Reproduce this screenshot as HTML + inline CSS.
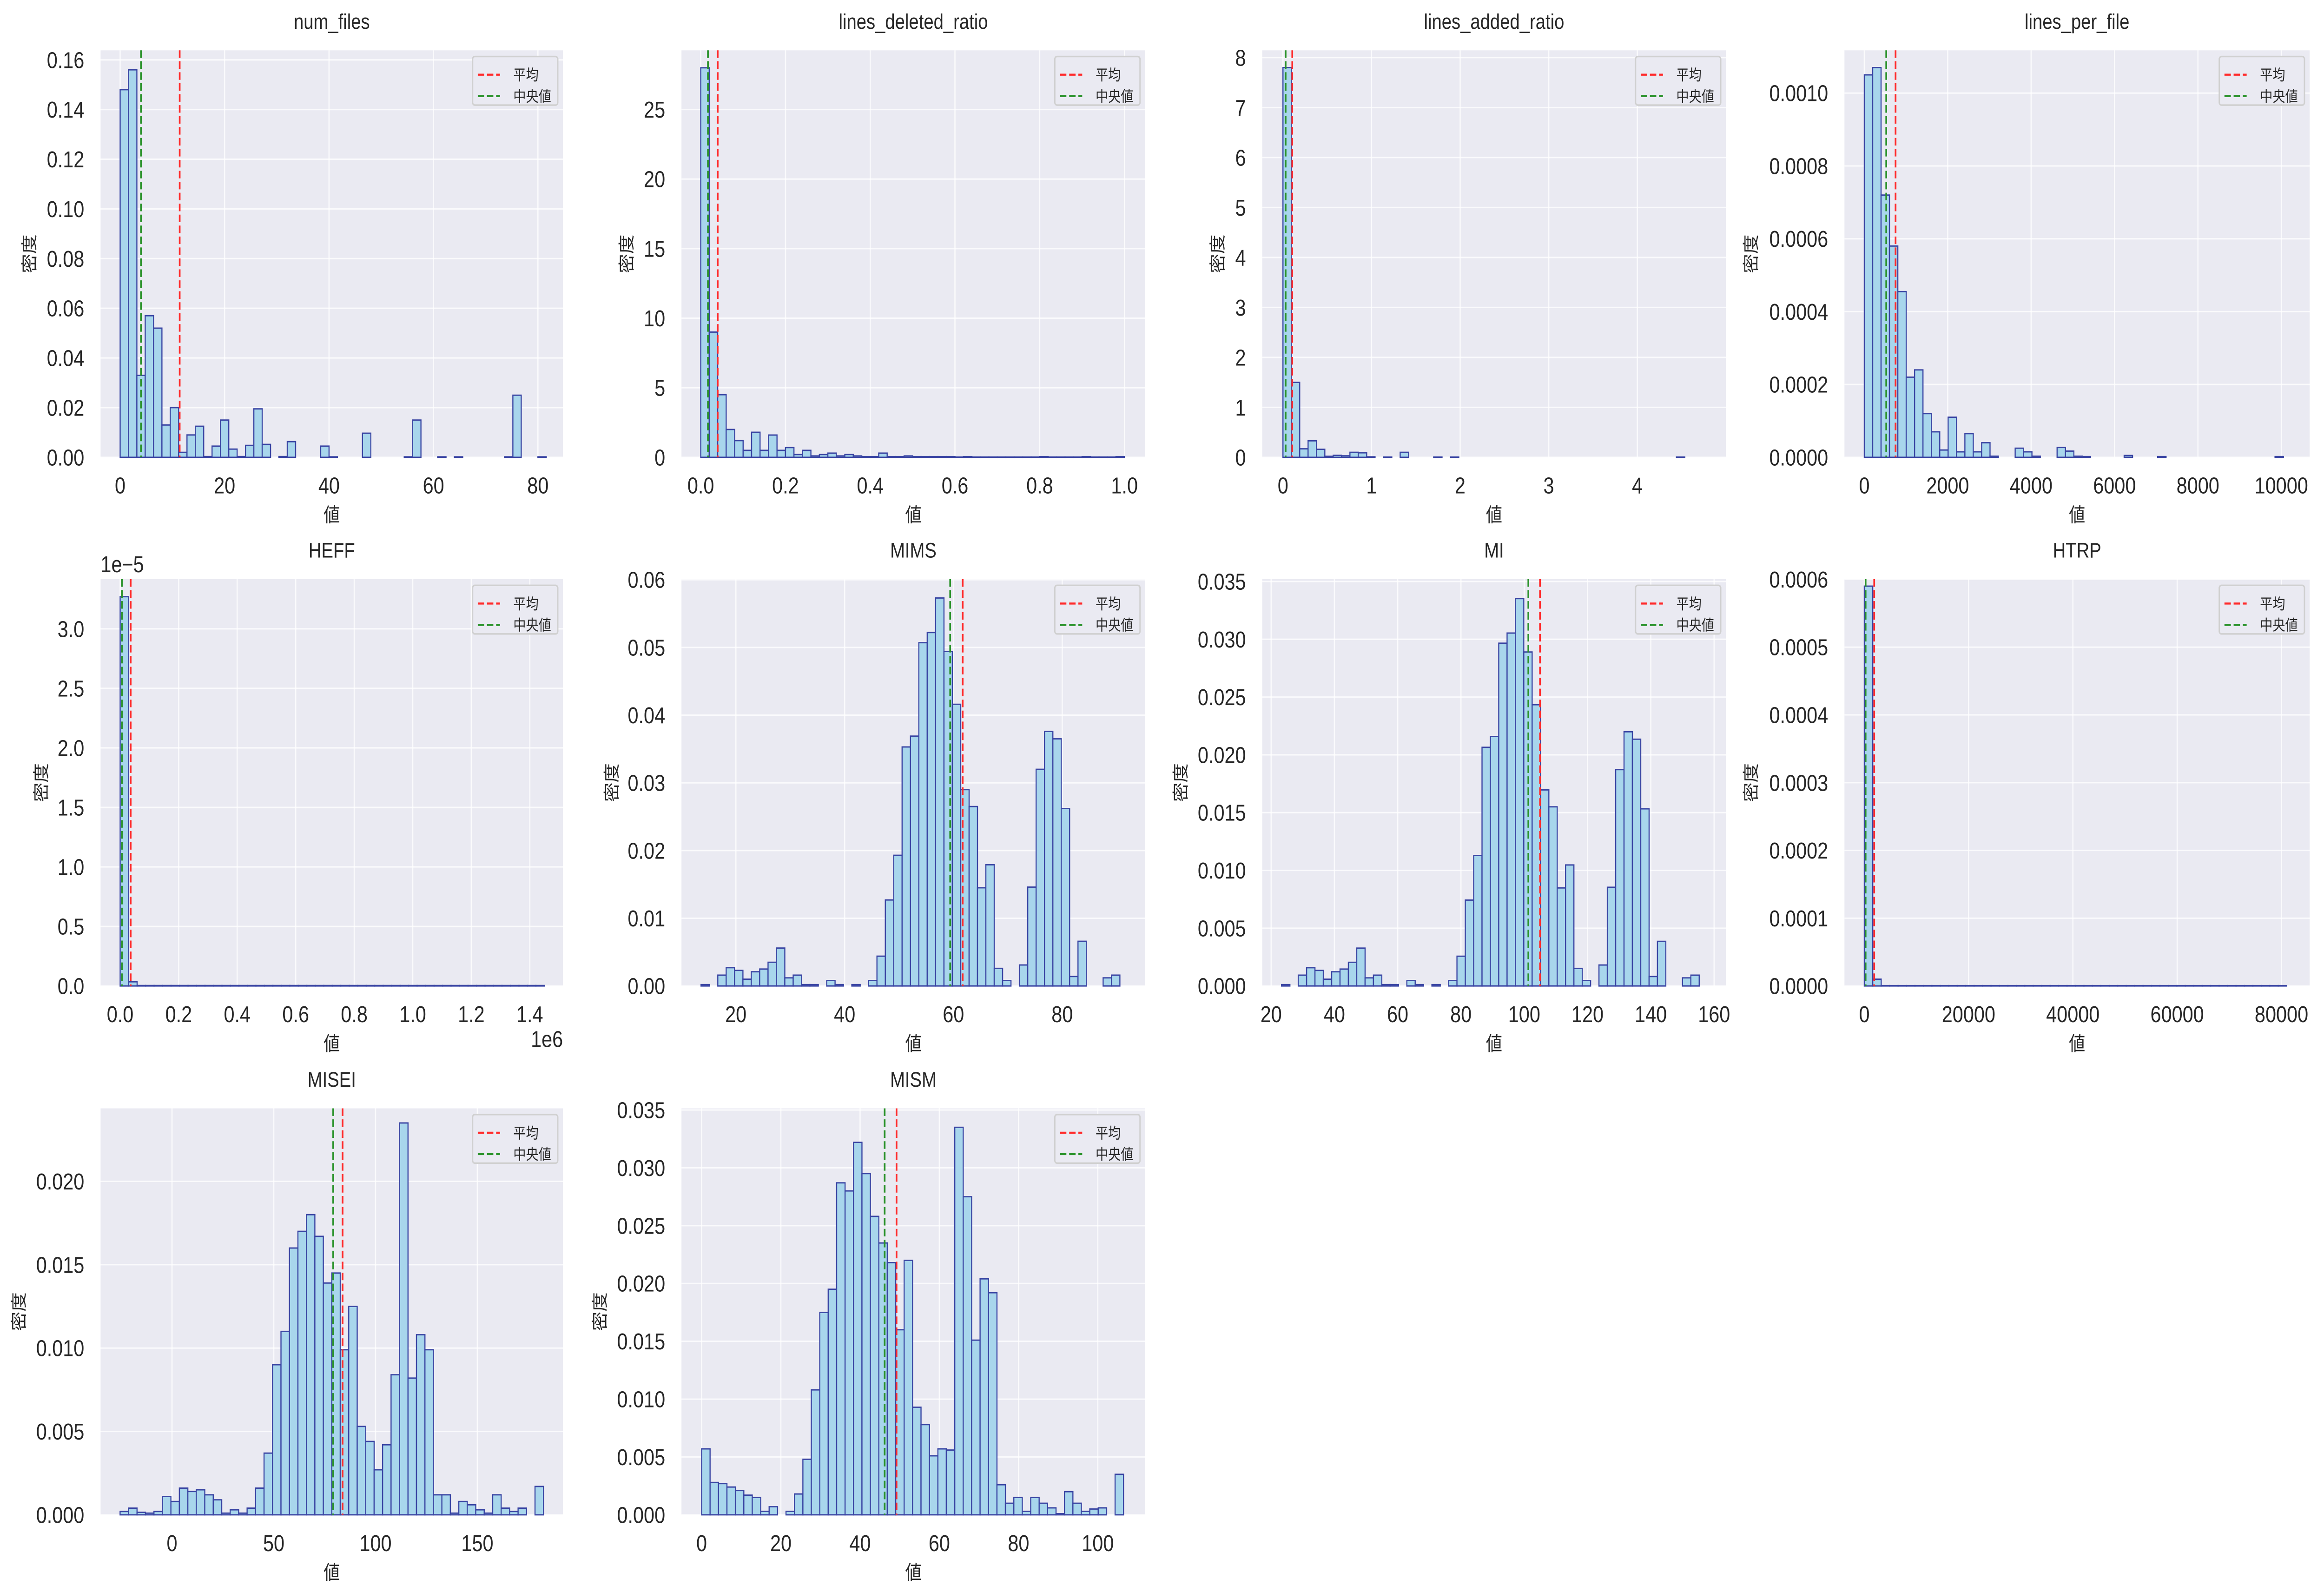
<!DOCTYPE html>
<html><head><meta charset="utf-8">
<style>
html,body{margin:0;padding:0;background:#fff;width:100vw;height:100vh;overflow:hidden;}
svg{display:block;position:absolute;left:0;top:0;width:100vw;height:100vh;}
text{font-family:"Liberation Sans","Noto Sans CJK JP",sans-serif;fill:#262626;}
</style></head>
<body>
<svg id="s" viewBox="0 0 1568.7 901.3" preserveAspectRatio="none" xmlns="http://www.w3.org/2000/svg"><g id="g"></g></svg>
<script>
const cols=[[67.9,380],[460,773],[852,1165],[1245,1559]];
const rows=[[28.5,258.9],[327.9,558.2],[627.5,857.6]];
const mims=[0.0002,0,0.0016,0.0027,0.0023,0.001,0.0021,0.0025,0.0035,0.0056,0.0012,0.0016,0.0002,0.0002,0,0.0008,0.0002,0,0.0002,0,0.0008,0.0044,0.0127,0.0193,0.0353,0.0369,0.0507,0.0522,0.0573,0.0494,0.0416,0.029,0.0265,0.0145,0.0179,0.0026,0.0008,0,0.0031,0.0146,0.032,0.0376,0.0365,0.0262,0.0014,0.0066,0,0,0.0012,0.0016];
function fill(a,n,v){while(a.length<n)a.push(v);return a;}
const P=[
{t:"num_files",c:0,r:0,lo:48,x0:0,p0:81.1,x1:80,p1:363.1,yv:0.16,yp:33.9,xt:[0,20,40,60,80],xd:0,yt:[0,.02,.04,.06,.08,.10,.12,.14,.16],yd:2,bs:0,bw:1.6,mean:11.4,med:4.0,
 h:fill([0.148,0.156,0.033,0.057,0.052,0.013,0.020,0.002,0.009,0.0125,0.0003,0.0045,0.015,0.0033,0.0003,0.0048,0.0195,0.0052,0,0.0003,0.0063,0,0,0,0.0045,0.0002,0,0,0,0.0097,0,0,0,0,0.0002,0.015,0,0,0.0002,0,0.0002,0,0,0,0,0,0.0002,0.025,0,0,0.0002],50,0)},
{t:"lines_deleted_ratio",c:1,r:0,lo:37,x0:0,p0:473,x1:1,p1:759,yv:25,yp:62,xt:[0,.2,.4,.6,.8,1.0],xd:1,yt:[0,5,10,15,20,25],yd:0,bs:0,bw:0.02,mean:0.04,med:0.017,
 h:fill([28,9,4.5,2,1.2,0.5,1.8,0.5,1.6,0.5,0.7,0.2,0.5,0.1,0.2,0.3,0.1,0.2,0.1,0.05,0.05,0.3,0.05,0.05,0.1,0.05,0.05,0.05,0.05,0.05,0.02,0.05,0.02,0.02,0.02,0.02,0.02,0.02,0.02,0.02,0.05,0.02,0.02,0.02,0.02,0.05,0.02,0.02,0.02,0.05],50,0)},
{t:"lines_added_ratio",c:2,r:0,lo:30,x0:0,p0:866,x1:1,p1:925.8,yv:8,yp:32.6,xt:[0,1,2,3,4],xd:0,yt:[0,1,2,3,4,5,6,7,8],yd:0,bs:0,bw:0.0945,mean:0.105,med:0.03,
 h:fill([7.8,1.5,0.17,0.33,0.16,0.02,0.04,0.03,0.1,0.09,0.01,0,0.005,0,0.1,0,0,0,0.005,0,0.005],47,0).concat([0.005,0,0])},
{t:"lines_per_file",c:3,r:0,lo:63,x0:0,p0:1258.4,x1:2000,p1:1314.7,yv:0.001,yp:52.7,xt:[0,2000,4000,6000,8000,10000],xd:0,yt:[0,.0002,.0004,.0006,.0008,.0010],yd:4,bs:0,bw:201,mean:750,med:526,
 h:fill([0.00105,0.00107,0.00072,0.00058,0.000455,0.00022,0.00024,0.00012,0.00007,0.00002,0.00011,0.000015,0.000065,0.000015,0.00004,0.000003,0,0,0.000025,0.000015,0.000003,0,0,0.000027,0.000017,0.000003,0.000002,0,0,0,0,0.000005,0,0,0,0.000002],49,0).concat([0.000002])},
{t:"HEFF",c:0,r:1,lo:40,x0:0,p0:81.1,x1:1.4,p1:357.6,yv:3,yp:356,xt:[0,.2,.4,.6,.8,1.0,1.2,1.4],xd:1,yt:[0,.5,1,1.5,2,2.5,3],yd:1,bs:0,bw:0.029,mean:0.036,med:0.006,
 h:fill([3.27,0.035],50,0.004),off:"1e\u22125",mult:"1e6"},
{t:"MIMS",c:1,r:1,lo:47,x0:20,p0:496.7,x1:80,p1:717,yv:0.06,yp:328.2,xt:[20,40,60,80],xd:0,yt:[0,.01,.02,.03,.04,.05,.06],yd:2,bs:13.6,bw:1.54,mean:61.7,med:59.4,h:mims},
{t:"MI",c:2,r:1,lo:55,x0:20,p0:858,x1:160,p1:1157,yv:0.035,yp:329.2,xt:[20,40,60,80,100,120,140,160],xd:0,yt:[0,.005,.01,.015,.02,.025,.03,.035],yd:3,bs:23.3,bw:2.64,mean:105,med:101.3,h:mims.map(v=>v*0.585)},
{t:"HTRP",c:3,r:1,lo:63,x0:0,p0:1258.4,x1:80000,p1:1540,yv:0.0006,yp:328,xt:[0,20000,40000,60000,80000],xd:0,yt:[0,.0001,.0002,.0003,.0004,.0005,.0006],yd:4,bs:0,bw:1620,mean:1900,med:250,
 h:fill([0.00059,0.00001],50,0.0000006)},
{t:"MISEI",c:0,r:2,lo:55,x0:0,p0:116.1,x1:50,p1:184.8,yv:0.02,yp:668.8,xt:[0,50,100,150],xd:0,yt:[0,.005,.01,.015,.02],yd:3,bs:-25.5,bw:4.16,mean:83.8,med:79.2,
 h:[0.0002,0.0004,0.00015,0.0001,0.0002,0.0011,0.0008,0.0016,0.0014,0.0015,0.0012,0.0009,0.0001,0.0003,0.0001,0.0004,0.0016,0.0037,0.009,0.011,0.016,0.017,0.018,0.0167,0.0139,0.0145,0.0099,0.0125,0.0053,0.0044,0.0027,0.0042,0.0084,0.0235,0.0082,0.0108,0.0099,0.0012,0.0012,0.0001,0.0008,0.0006,0.0003,0.0001,0.0012,0.0004,0.0002,0.0004,0,0.0017]},
{t:"MISM",c:1,r:2,lo:55,x0:0,p0:473.6,x1:100,p1:741,yv:0.035,yp:628.4,xt:[0,20,40,60,80,100],xd:0,yt:[0,.005,.01,.015,.02,.025,.03,.035],yd:3,bs:0,bw:2.13,mean:49.2,med:46.2,
 h:[0.0057,0.0028,0.0027,0.0024,0.0021,0.0017,0.0015,0.0003,0.0007,0,0.0003,0.0018,0.0048,0.0108,0.0175,0.0195,0.0287,0.028,0.0322,0.0295,0.0258,0.0235,0.0218,0.016,0.022,0.0093,0.0078,0.0051,0.0057,0.0056,0.0335,0.0275,0.0151,0.0204,0.0192,0.0026,0.001,0.0015,0.0003,0.0015,0.001,0.0006,0.0001,0.002,0.001,0.0003,0.0005,0.0006,0,0.0035]}
];
let o="";
for(const p of P){
 const [L,R]=cols[p.c],[T,B]=rows[p.r];
 const X=v=>p.p0+(v-p.x0)*(p.p1-p.p0)/(p.x1-p.x0);
 const Y=v=>B-v*(B-p.yp)/p.yv;
 const cx=(L+R)/2;
 o+=`<rect x="${L}" y="${T}" width="${R-L}" height="${B-T}" fill="#eaeaf2"/>`;
 for(const v of p.xt){const x=X(v);o+=`<line x1="${x}" y1="${T}" x2="${x}" y2="${B}" stroke="#fff" stroke-width="0.8" opacity="0.8"/>`;
  o+=`<text x="${x}" y="${B+20.5}" font-size="13" text-anchor="middle">${v.toFixed(p.xd)}</text>`;}
 for(const v of p.yt){const y=Y(v);o+=`<line x1="${L}" y1="${y}" x2="${R}" y2="${y}" stroke="#fff" stroke-width="0.8" opacity="0.8"/>`;
  o+=`<text x="${L-11}" y="${y+4.6}" font-size="13" text-anchor="end">${v.toFixed(p.yd)}</text>`;}
 p.h.forEach((h,i)=>{if(h<=0)return;const x=X(p.bs+i*p.bw),w=X(p.bs+(i+1)*p.bw)-x,y=Y(h);
  o+=`<rect x="${x}" y="${y}" width="${w}" height="${B-y}" fill="#a8d6ec" stroke="#3a45a3" stroke-width="0.75"/>`;});
 o+=`<line x1="${X(p.mean)}" y1="${T}" x2="${X(p.mean)}" y2="${B}" stroke="#ff2b2b" stroke-width="1.15" stroke-dasharray="4.3,1.9"/>`;
 o+=`<line x1="${X(p.med)}" y1="${T}" x2="${X(p.med)}" y2="${B}" stroke="#2a922a" stroke-width="1.15" stroke-dasharray="4.3,1.9"/>`;
 o+=`<text x="${cx}" y="${T-12.2}" font-size="12" text-anchor="middle">${p.t}</text>`;
 o+=`<text x="${cx}" y="${B+36.5}" font-size="11" text-anchor="middle">値</text>`;
 const ly=(T+B)/2, lxx=L-p.lo;
 o+=`<text x="${lxx}" y="${ly}" font-size="11" text-anchor="middle" transform="rotate(-90 ${lxx} ${ly})" dy="3.8">密度</text>`;
 const lx=R-61,lt=T+3.5;
 o+=`<rect x="${lx}" y="${lt}" width="57.5" height="27.5" rx="1.5" fill="#eaeaf2" stroke="#d0d0d0" stroke-width="0.9"/>`;
 o+=`<line x1="${lx+3.5}" y1="${lt+10.3}" x2="${lx+18.5}" y2="${lt+10.3}" stroke="#ff2b2b" stroke-width="1.15" stroke-dasharray="4.3,1.9"/>`;
 o+=`<line x1="${lx+3.5}" y1="${lt+22.4}" x2="${lx+18.5}" y2="${lt+22.4}" stroke="#2a922a" stroke-width="1.15" stroke-dasharray="4.3,1.9"/>`;
 o+=`<text x="${lx+27.5}" y="${lt+13.4}" font-size="8.5">平均</text>`;
 o+=`<text x="${lx+27.5}" y="${lt+25.5}" font-size="8.5">中央値</text>`;
 if(p.off)o+=`<text x="${L}" y="${T-4}" font-size="13">${p.off}</text>`;
 if(p.mult)o+=`<text x="${R}" y="${B+34.5}" font-size="13" text-anchor="end">${p.mult}</text>`;
}
document.getElementById("g").innerHTML=o;
</script>
</body></html>
